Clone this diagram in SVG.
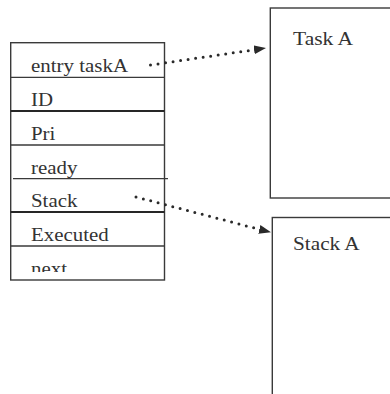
<svg xmlns="http://www.w3.org/2000/svg" width="390" height="394" viewBox="0 0 390 394">
  <style>
    .frame { fill: none; stroke: #3a3a3a; stroke-width: 1.4; }
    .rule { stroke: #3a3a3a; stroke-width: 1.3; }
    .rule-dark { stroke: #262626; stroke-width: 2; }
    .label { font-family: "Liberation Serif", "Times New Roman", serif; font-size: 18px; fill: #333; }
    .dots { fill: none; stroke: #2a2a2a; stroke-width: 3; stroke-linecap: round; stroke-dasharray: 0 7.6; }
  </style>
  <defs>
    <marker id="head" viewBox="0 0 12 9" refX="11" refY="4.5" markerWidth="12" markerHeight="9" markerUnits="userSpaceOnUse" orient="auto">
      <path d="M0,0 L12,4.5 L0,9 Z" fill="#2a2a2a"/>
    </marker>
    <clipPath id="lastRow">
      <rect x="11" y="246" width="153" height="26"/>
    </clipPath>
  </defs>

  <rect width="390" height="394" fill="#fff"/>

  <!-- task control block with its fields -->
  <g id="tcb">
    <rect class="frame" x="10.7" y="42.7" width="153.8" height="237.3"/>
    <line class="rule" x1="10.7" y1="77.3" x2="164.5" y2="77.3"/>
    <line class="rule-dark" x1="10.7" y1="111" x2="164.5" y2="111"/>
    <line class="rule" x1="10.7" y1="145" x2="164.5" y2="145"/>
    <line class="rule" x1="13" y1="178.7" x2="168" y2="178.7"/>
    <line class="rule-dark" x1="10.7" y1="212" x2="164.5" y2="212"/>
    <line class="rule" x1="10.7" y1="246" x2="164.5" y2="246"/>
    <text class="label" x="31" y="72" textLength="97" lengthAdjust="spacingAndGlyphs">entry taskA</text>
    <text class="label" x="31" y="106" textLength="22" lengthAdjust="spacingAndGlyphs">ID</text>
    <text class="label" x="31" y="140" textLength="24.4" lengthAdjust="spacingAndGlyphs">Pri</text>
    <text class="label" x="31" y="174" textLength="46.4" lengthAdjust="spacingAndGlyphs">ready</text>
    <text class="label" x="31" y="207" textLength="46.4" lengthAdjust="spacingAndGlyphs">Stack</text>
    <text class="label" x="31" y="240.5" textLength="77.7" lengthAdjust="spacingAndGlyphs">Executed</text>
    <text class="label" x="31" y="275" textLength="36" lengthAdjust="spacingAndGlyphs" clip-path="url(#lastRow)">next</text>
  </g>

  <!-- code area of the task -->
  <g id="task-a">
    <rect class="frame" x="270.3" y="8" width="140" height="190"/>
    <text class="label" x="293" y="45" textLength="60" lengthAdjust="spacingAndGlyphs">Task A</text>
  </g>

  <!-- stack area of the task -->
  <g id="stack-a">
    <rect class="frame" x="272.3" y="217.5" width="140" height="200"/>
    <text class="label" x="293" y="250" textLength="66.7" lengthAdjust="spacingAndGlyphs">Stack A</text>
  </g>

  <!-- pointers from the fields to their areas -->
  <g id="connectors">
    <path class="dots" d="M150.5,65 L256,49.5" />
    <path d="M255,49.6 L265,48.2" stroke="none" fill="none" marker-end="url(#head)"/>
    <path class="dots" d="M136,197 L262,230" />
    <path d="M261,229.8 L270,232" stroke="none" fill="none" marker-end="url(#head)"/>
  </g>
</svg>
